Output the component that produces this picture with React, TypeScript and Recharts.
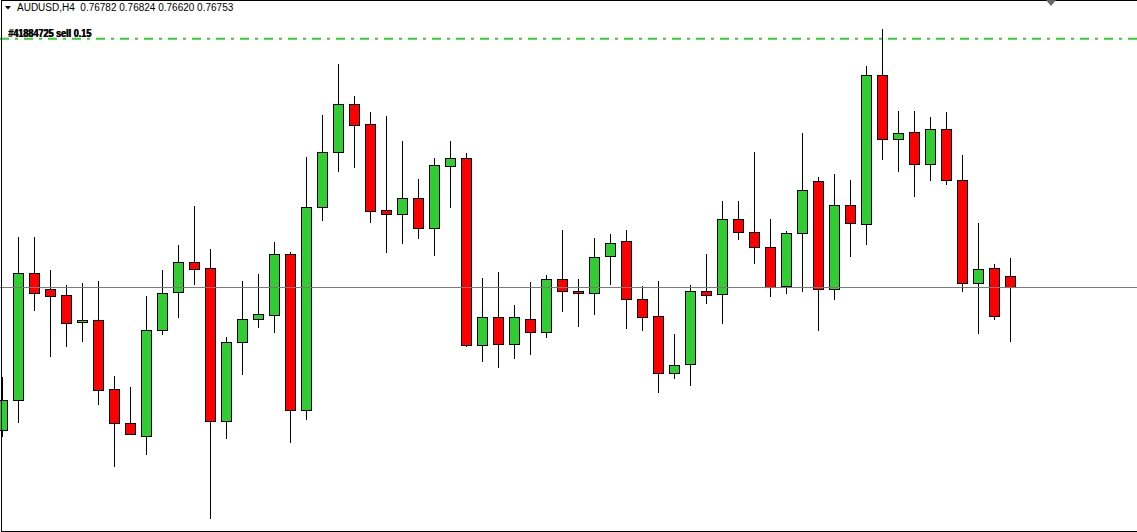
import { ComposedChart, Bar, XAxis, YAxis, ReferenceLine } from "recharts";

const symbol = "AUDUSD,H4";
const lastQuote = ["0.76782", "0.76824", "0.76620", "0.76753"];
const bidPrice = 0.76753;
const orderPrice = 0.77362;
const orderLabel = "#41884725 sell 0.15";

// H4 bars, oldest first
const opens = [
  0.76404, 0.76477, 0.76788, 0.76749, 0.76734, 0.76668, 0.76673, 0.76504,
  0.76421, 0.76389, 0.76648, 0.76742, 0.76815, 0.768, 0.76426, 0.76619,
  0.76675, 0.76685, 0.76835, 0.76452, 0.7695, 0.77085, 0.77202, 0.77153,
  0.76942, 0.76933, 0.76972, 0.76898, 0.7705, 0.7707, 0.76612, 0.7668,
  0.76614, 0.76675, 0.76644, 0.76773, 0.76744, 0.76739, 0.7683, 0.76867,
  0.76724, 0.76683, 0.76543, 0.76565, 0.76744, 0.76737, 0.7692, 0.76889,
  0.76852, 0.76756, 0.76886, 0.77014, 0.76749, 0.76955, 0.76908, 0.77273,
  0.77116, 0.77134, 0.77055, 0.77141, 0.77016, 0.76764, 0.768, 0.76782,
];
const highs = [
  0.76533, 0.76876, 0.76876, 0.76795, 0.76759, 0.76764, 0.76769, 0.76536,
  0.76509, 0.76732, 0.76795, 0.76857, 0.76952, 0.76847, 0.76631, 0.76769,
  0.76786, 0.76864, 0.7684, 0.77072, 0.77175, 0.773, 0.77222, 0.77183,
  0.77173, 0.77112, 0.77018, 0.7707, 0.77112, 0.77082, 0.76776, 0.76791,
  0.7671, 0.76766, 0.76783, 0.76893, 0.76773, 0.76874, 0.76884, 0.76893,
  0.76756, 0.76769, 0.76639, 0.76759, 0.76835, 0.76965, 0.76965, 0.77085,
  0.7692, 0.76891, 0.77131, 0.77023, 0.77031, 0.77016, 0.77295, 0.77386,
  0.77185, 0.77185, 0.7717, 0.77183, 0.77077, 0.76911, 0.7681, 0.76824,
];
const lows = [
  0.76386, 0.76421, 0.76695, 0.76582, 0.76607, 0.76619, 0.76465, 0.76313,
  0.76391, 0.76342, 0.76636, 0.76678, 0.76759, 0.76185, 0.76381, 0.76538,
  0.76653, 0.76641, 0.76372, 0.76428, 0.76916, 0.77036, 0.77045, 0.76911,
  0.76837, 0.76859, 0.76871, 0.7683, 0.76947, 0.76607, 0.7657, 0.76555,
  0.76577, 0.76587, 0.76629, 0.76693, 0.76656, 0.76685, 0.76759, 0.76651,
  0.76646, 0.76494, 0.76528, 0.76511, 0.76712, 0.76663, 0.76869, 0.7681,
  0.76729, 0.76737, 0.76742, 0.76646, 0.76722, 0.76827, 0.76857, 0.77065,
  0.77036, 0.76974, 0.77014, 0.77004, 0.76742, 0.76639, 0.76673, 0.7662,
];
const closes = [
  0.76477, 0.76788, 0.76739, 0.76732, 0.76666, 0.76673, 0.76501, 0.76421,
  0.76394, 0.76648, 0.76739, 0.76815, 0.76798, 0.76426, 0.76619, 0.76675,
  0.76688, 0.76835, 0.76452, 0.7695, 0.77085, 0.77202, 0.77151, 0.7694,
  0.76933, 0.76972, 0.76898, 0.77053, 0.7707, 0.76612, 0.7668, 0.76614,
  0.7668, 0.76644, 0.76773, 0.76744, 0.76739, 0.76827, 0.76862, 0.76724,
  0.7668, 0.76543, 0.76563, 0.76744, 0.76734, 0.7692, 0.76889, 0.76852,
  0.76754, 0.76886, 0.76991, 0.76749, 0.76955, 0.76911, 0.77273, 0.77116,
  0.77131, 0.77055, 0.77141, 0.77016, 0.76764, 0.76798, 0.76683, 0.76753,
];

const data = opens.map((open, i) => ({
  slot: i,
  open,
  high: highs[i],
  low: lows[i],
  close: closes[i],
  range: [lows[i], highs[i]],
}));

const W = 1137;
const H = 532;

const Candle = (props: any) => {
  const { x, y, width, height, payload } = props;
  const { open, close, high, low } = payload;
  const cx = Math.floor(x + width / 2) + 0.5;
  const toY = (v: number) => y + ((high - v) / (high - low)) * height;
  const top = Math.round(toY(Math.max(open, close))) + 0.5;
  const bot = Math.round(toY(Math.min(open, close))) + 0.5;
  const up = close >= open;
  return (
    <g shapeRendering="crispEdges">
      <line x1={cx} x2={cx} y1={y} y2={y + height} stroke="#000" />
      <rect
        x={cx - 5}
        y={top}
        width={10}
        height={Math.max(bot - top, 1)}
        fill={up ? "#32CD32" : "#FF0000"}
        stroke="#000"
      />
    </g>
  );
};

// MT4 draws the order label twice, slightly offset, so it looks heavy
const OrderLabel = (props: any) => {
  const { viewBox } = props;
  const common = {
    y: viewBox.y - 2,
    fontFamily: "Liberation Sans, Arial, sans-serif",
    fontSize: 10.5,
    fontWeight: "bold" as const,
    fill: "#000",
    textLength: 83,
    lengthAdjust: "spacingAndGlyphs" as const,
  };
  return (
    <g>
      <text x={8} {...common}>{orderLabel}</text>
      <text x={8.7} {...common}>{orderLabel}</text>
    </g>
  );
};

export default function App() {
  return (
    <div style={{ position: "relative", width: W, height: H, background: "#fff", overflow: "hidden" }}>
      <style>{"body{margin:0}"}</style>
      <ComposedChart width={W} height={H} data={data} margin={{ top: 0, right: 0, bottom: 0, left: 0 }}>
        <XAxis type="number" dataKey="slot" domain={[-0.15625, 70.90625]} hide />
        <YAxis type="number" domain={[0.76154, 0.77457]} hide />
        <ReferenceLine y={bidPrice} stroke="#7a7a7a" strokeWidth={1} shapeRendering="crispEdges" />
        <ReferenceLine
          y={orderPrice}
          stroke="#32CD32"
          strokeWidth={2}
          strokeDasharray="9 6 3 6"
          label={<OrderLabel />}
        />
        <Bar dataKey="range" barSize={10} shape={<Candle />} isAnimationActive={false} />
      </ComposedChart>

      <div
        style={{
          position: "absolute",
          left: 1,
          top: 0,
          width: W - 1,
          height: H,
          boxSizing: "border-box",
          borderLeft: "1px solid #000",
          borderTop: "1px solid #000",
          borderBottom: "1px solid #000",
          pointerEvents: "none",
        }}
      />
      <svg width={W} height={12} style={{ position: "absolute", left: 0, top: 0 }}>
        <polygon points="5,6 11,6 8,9.5" fill="#000" />
        <polygon points="1046,0 1056,0 1051,6" fill="#666" />
      </svg>
      <div
        style={{
          position: "absolute",
          left: 17,
          top: 3,
          fontFamily: "Liberation Sans, Arial, sans-serif",
          fontSize: 10,
          lineHeight: "10px",
          whiteSpace: "pre",
          color: "#000",
        }}
      >
        {symbol + "  " + lastQuote.join(" ")}
      </div>
    </div>
  );
}
